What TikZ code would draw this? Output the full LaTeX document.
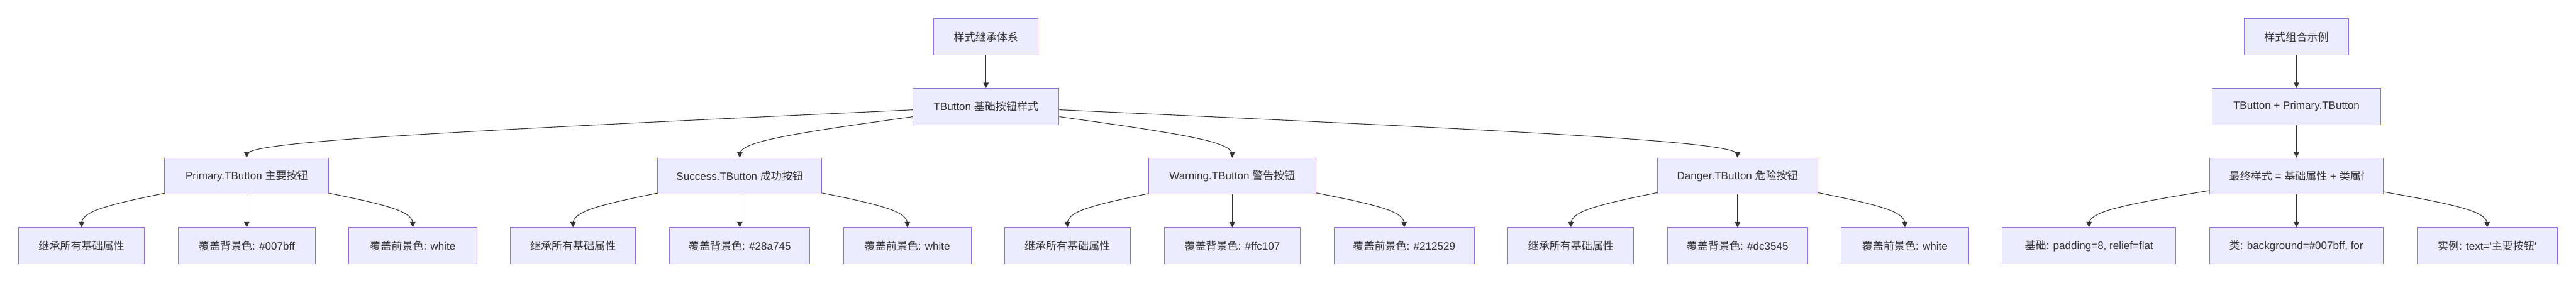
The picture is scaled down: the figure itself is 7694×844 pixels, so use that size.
\documentclass[tikz,border=0pt]{standalone}
\usepackage{fontspec}
\setmainfont{Liberation Sans}
\newfontfamily\cjkfont{Noto Sans CJK SC}
\newcommand\zh[1]{{\cjkfont #1}}
\usetikzlibrary{arrows.meta,calc}
\definecolor{nodefill}{HTML}{ECECFF}
\definecolor{nodeline}{HTML}{9370DB}
\definecolor{ink}{HTML}{333333}

\tikzset{
  box/.style={draw=nodeline, fill=nodefill, line width=1pt,
    minimum height=54pt, inner sep=0pt, text=ink,
    font=\fontsize{16}{19}\selectfont},
  boxtext/.style={inner sep=0pt, text=ink, font=\fontsize{16}{19}\selectfont},
  link/.style={draw=ink, line width=1pt, -{Triangle[length=8pt,width=8pt]}},
}

% node: name, x, y, width (all in px units), label
\newcommand\bx[5]{\node[box, minimum width=#4*0.5pt] (#1) at (#2,#3) {#5};}

% straight connector between vertically aligned nodes
\newcommand\straightlink[2]{\draw[link] (#1) -- (#2);}

% B-spline connector: source border -> bend point above target -> target top
\newcommand\bentlink[2]{%
  \coordinate (q2) at (#2.north);
  \coordinate (q1) at ($(#2.north)+(0,-50)$);
  \path (q1) -- (#1) coordinate[pos=1] (q0);
  \coordinate (qh) at ($(q0)!.5!(q2)$);
  \coordinate (qr) at ($(q1)!1/3!(qh)$);
  \draw[link] (q0) -- ($(q0)!1/6!(q1)$)
    .. controls ($(q0)!1/3!(q1)$) and ($(q0)!2/3!(q1)$) .. (qr)
    .. controls ($(q1)!1/3!(q2)$) and ($(q1)!2/3!(q2)$) .. ($(q1)!5/6!(q2)$)
    -- (q2);
}

\begin{document}
\begin{tikzpicture}[x=0.5pt, y=-0.5pt]
\useasboundingbox (0,0) rectangle (7694,844);

% inheritance tree
\bx{A}{2945}{110}{312}{\zh{样式继承体系}}
\bx{B}{2945}{318}{436}{TButton \zh{基础按钮样式}}

\bx{P}{737}{526}{490}{Primary.TButton \zh{主要按钮}}
\bx{S}{2209.5}{526}{491}{Success.TButton \zh{成功按钮}}
\bx{W}{3680.5}{526}{499}{Warning.TButton \zh{警告按钮}}
\bx{D}{5189.5}{526}{479}{Danger.TButton \zh{危险按钮}}

\bx{P1}{243.5}{734}{377}{\zh{继承所有基础属性}}
\bx{P2}{737}{734}{410}{\zh{覆盖背景色}: \#007bff}
\bx{P3}{1233}{734}{382}{\zh{覆盖前景色}: white}

\bx{S1}{1711.5}{734}{375}{\zh{继承所有基础属性}}
\bx{S2}{2209.5}{734}{419}{\zh{覆盖背景色}: \#28a745}
\bx{S3}{2710}{734}{382}{\zh{覆盖前景色}: white}

\bx{W1}{3188}{734}{376}{\zh{继承所有基础属性}}
\bx{W2}{3680.5}{734}{407}{\zh{覆盖背景色}: \#ffc107}
\bx{W3}{4194}{734}{418}{\zh{覆盖前景色}: \#212529}

\bx{D1}{4692}{734}{376}{\zh{继承所有基础属性}}
\bx{D2}{5189.5}{734}{418}{\zh{覆盖背景色}: \#dc3545}
\bx{D3}{5689.5}{734}{381}{\zh{覆盖前景色}: white}

% combination example
\bx{R0}{6859}{110}{312}{\zh{样式组合示例}}
\bx{R1}{6859}{318}{502}{TButton + Primary.TButton}
\bx{R2}{6859}{526}{520}{}
\begin{scope}
  \clip ($(R2.north west)+(60,0)$) rectangle ($(R2.south east)+(-60,0)$);
  \node[boxtext, anchor=west] (R2t) at ($(R2.west)+(60,0)$)
    {\zh{最终样式} = \zh{基础属性} + \zh{类属性}};
\end{scope}
\bx{R3a}{6239.5}{734}{519}{\zh{基础}: padding=8, relief=flat}
\bx{R3b}{6859}{734}{520}{}
\begin{scope}
  \clip ($(R3b.north west)+(60,0)$) rectangle ($(R3b.south east)+(-60,0)$);
  \node[boxtext, anchor=west] (R3bt) at ($(R3b.west)+(60,0)$)
    {\zh{类}: background=\#007bff, for};
\end{scope}
\bx{R3c}{7428.5}{734}{419}{\zh{实例}: text=\textquotesingle\zh{主要按钮}\textquotesingle}

% connectors
\straightlink{A}{B}
\bentlink{B}{P}
\bentlink{B}{S}
\bentlink{B}{W}
\bentlink{B}{D}

\bentlink{P}{P1}
\straightlink{P}{P2}
\bentlink{P}{P3}
\bentlink{S}{S1}
\straightlink{S}{S2}
\bentlink{S}{S3}
\bentlink{W}{W1}
\straightlink{W}{W2}
\bentlink{W}{W3}
\bentlink{D}{D1}
\straightlink{D}{D2}
\bentlink{D}{D3}

\straightlink{R0}{R1}
\straightlink{R1}{R2}
\bentlink{R2}{R3a}
\straightlink{R2}{R3b}
\bentlink{R2}{R3c}
\end{tikzpicture}
\end{document}
